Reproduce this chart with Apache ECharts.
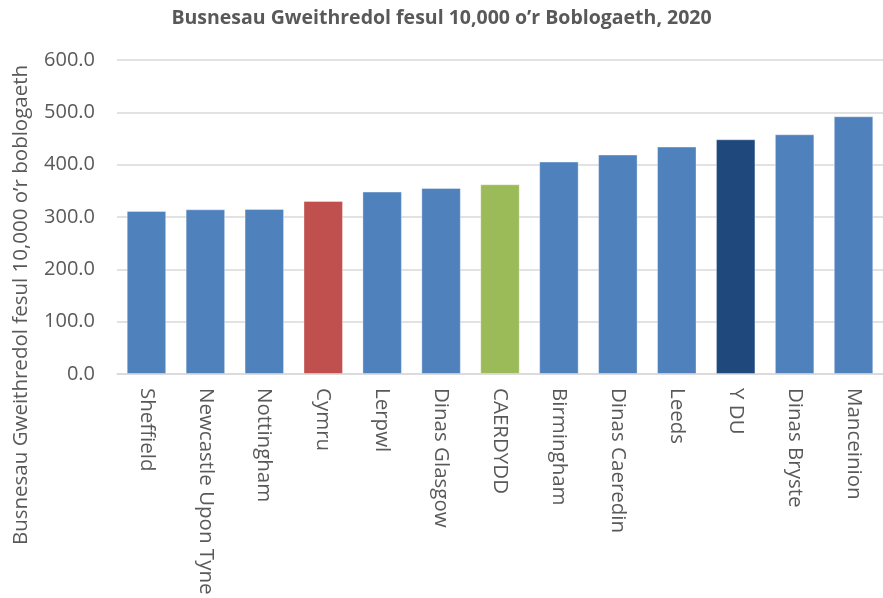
<!DOCTYPE html>
<html>
<head>
<meta charset="utf-8">
<script src="https://cdn.jsdelivr.net/npm/echarts@6/dist/echarts.min.js"></script>
<style>html,body{margin:0;padding:0;background:#fff;}#c{width:883px;height:598px;}</style>
</head>
<body>
<div id="c"></div>
<script>
const categories = ['Sheffield','Newcastle Upon Tyne','Nottingham','Cymru','Lerpwl','Dinas Glasgow','CAERDYDD','Birmingham','Dinas Caeredin','Leeds','Y DU','Dinas Bryste','Manceinion'];
const values = [311.5, 314.7, 315.3, 330.6, 348.5, 355.4, 362.5, 405.9, 419.3, 434.5, 448.5, 458.0, 492.5];
const yTicks = [0, 100, 200, 300, 400, 500, 600];
const titleText = 'Busnesau Gweithredol fesul 10,000 o\u2019r Boblogaeth, 2020';
const yName = 'Busnesau Gweithredol fesul 10,000 o\u2019r boblogaeth';

const specialColors = {'Cymru':'#C0504D','CAERDYDD':'#9BBB59','Y DU':'#1F497D'};
const baseColor = '#4F81BD';
const FONT = '"Open Sans", "Noto Sans", sans-serif';

const chart = echarts.init(document.getElementById('c'), null, {renderer:'canvas'});
chart.setOption({
  animation: false,
  backgroundColor: '#fff',
  title: {
    text: titleText, left: 'center', top: 3,
    textStyle: {fontFamily: FONT, fontSize: 19.5, fontWeight: 'bold', color: '#595959'}
  },
  graphic: [{
    type: 'text', x: 21, y: 305, rotation: Math.PI/2,
    style: {text: yName, fill: '#595959', font: '20.5px ' + FONT, align: 'center', verticalAlign: 'middle'}
  }],
  grid: {left: 117, right: -8, top: 60, bottom: 224},
  xAxis: {
    type: 'category', data: categories,
    axisLine: {lineStyle: {color: '#D9D9D9', width: 1.5}},
    axisTick: {show: false},
    axisLabel: {rotate: -90, interval: 0, margin: 14, color: '#595959', fontFamily: FONT, fontSize: 20.5}
  },
  yAxis: {
    type: 'value', min: yTicks[0], max: yTicks[yTicks.length-1], interval: 100,
    axisLine: {show: false}, axisTick: {show: false},
    splitLine: {lineStyle: {color: '#D9D9D9', width: 1.5}},
    axisLabel: {margin: 22, color: '#595959', fontFamily: FONT, fontSize: 20, formatter: v => v.toFixed(1)}
  },
  series: [{
    type: 'bar', data: values.map((v,i)=>({value:v, itemStyle:{color: specialColors[categories[i]] || baseColor}})),
    barCategoryGap: '33%',
    itemStyle: {borderColor: 'rgba(255,255,255,0.35)', borderWidth: 1}
  }]
});
</script>
</body>
</html>
